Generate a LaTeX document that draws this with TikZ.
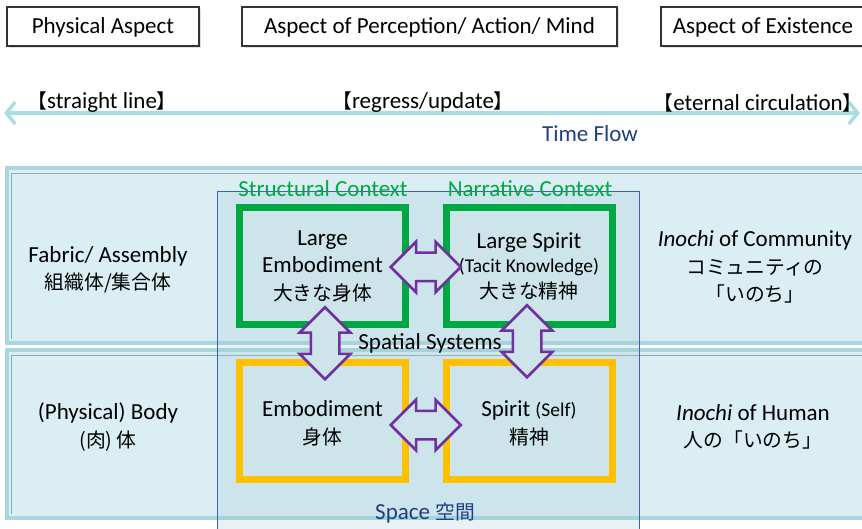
\documentclass[tikz,border=0pt]{standalone}
\usepackage{fontspec}
\setmainfont{Carlito}
\newfontfamily\jp[Scale=0.86]{Noto Sans CJK JP}
\usetikzlibrary{shapes.arrows,calc,shadows,arrows.meta}

\definecolor{panelbg}{HTML}{DAEEF3}
\definecolor{panelrim}{HTML}{A9D6DF}
\definecolor{panelline}{HTML}{8FAAB0}
\definecolor{spacetint}{HTML}{A0C8D2}
\definecolor{spacebg}{HTML}{CCE4EA}
\definecolor{spaceblue}{HTML}{3F62B0}
\definecolor{ctxgreen}{HTML}{00A843}
\definecolor{selfyellow}{HTML}{FFC000}
\definecolor{linkpurple}{HTML}{7030A0}
\definecolor{flowcyan}{HTML}{A9DCE3}
\definecolor{titleblue}{HTML}{1F3F80}

\newcommand\txt{\fontsize{23}{27.5}\selectfont}
\newcommand\sm{\fontsize{19.5}{22}\selectfont}

\tikzset{
  aspect/.style={draw=black!80, line width=1.2pt, fill=white, minimum height=39pt,
    text height=18.5pt, font=\txt,
    drop shadow={shadow xshift=2pt, shadow yshift=-2pt, opacity=0.25}},
  panel/.style={fill=panelbg, draw=panelrim, line width=3.5pt},
  label/.style={font=\txt, align=center},
  ctx/.style={font=\txt, text=ctxgreen},
  large/.style={draw=ctxgreen, line width=7pt, fill=spacebg, minimum width=166pt,
    minimum height=117pt, font=\txt, align=center,
    drop shadow={shadow xshift=2pt, shadow yshift=-2pt, opacity=0.25}},
  small/.style={large, draw=selfyellow},
  link/.style={double arrow, draw=linkpurple, line width=2.5pt, fill=spacebg,
    inner xsep=0pt, inner ysep=13pt, minimum width=48pt, minimum height=70pt,
    double arrow head extend=11pt}
}

\begin{document}
\begin{tikzpicture}[x=1pt,y=-1pt]
    \useasboundingbox (0,0) rectangle (862,529);

    \node[aspect, minimum width=192pt] (phys) at (103,26.5) {Physical Aspect};
    \node[aspect, minimum width=375pt] (perc) at (429.5,26.5) {Aspect of Perception/ Action/ Mind};
    \node[aspect, minimum width=204pt] (exist) at (763,26.5) {Aspect of Existence};

    \coordinate (fl) at (4,113);
    \coordinate (fr) at (860,113);
    \draw[flowcyan, line width=3.5pt, {Straight Barb[length=9pt,width=22pt]}-{Straight Barb[length=9pt,width=22pt]}] (fl) -- (fr);
    \node[label] (straight) at (102,102.5) {{\jp 【}straight line{\jp 】}};
    \node[label] (regress) at (423,102.5) {{\jp 【}regress/update{\jp 】}};
    \node[label] (eternal) at (758,102.5) {{\jp 【}eternal circulation{\jp 】}};
    \node[label, text=titleblue] (flow) at (590,134) {Time Flow};

    \draw[panel] (7,168) rectangle (870,343);
    \draw[panelline, line width=0.8pt] (11,173) -- (11,339) (11,173) -- (870,173);
    \draw[panel] (7,350) rectangle (870,518);
    \draw[panelline, line width=0.8pt] (11,355) -- (11,514) (11,355) -- (870,355);
    \draw[spaceblue, line width=0.8pt, fill=spacetint, fill opacity=0.24] (217,191) rectangle (639,540);

    \node[ctx] (struct) at (323,189) {Structural Context};
    \node[ctx] (narr) at (530,189) {Narrative Context};

    \node[label] (fabric) at (108,270) {Fabric/ Assembly\\{\jp 組織体/集合体}};
    \node[label] (body) at (108,427) {(Physical) Body\\{\jp (肉) 体}};
    \node[label] (comm) at (755,267) {\textit{Inochi} of Community\\{\jp コミュニティの}\\{\jp 「いのち」}};
    \node[label] (human) at (753,427) {\textit{Inochi} of Human\\{\jp 人の「いのち」}};

    \node[large] (lemb) at (322.5,266) {Large\\Embodiment\\{\jp 大きな身体}};
    \node[large] (lspi) at (529,266) {Large Spirit\\[-3pt]{\sm (Tacit Knowledge)}\\[-2pt]{\jp 大きな精神}};
    \node[small] (emb) at (322.5,420.5) {\\[-6pt]Embodiment\\{\jp 身体}};
    \node[small] (spi) at (529,420.5) {\\[-6pt]Spirit {\sm (Self)}\\{\jp 精神}};

    \node[label] (spatial) at (430,343) {Spatial Systems};
    \node[label, text=titleblue] (space) at (425,513) {Space {\jp 空間}};

    \node[link] (l1) at ($(lemb.east)!0.5!(lspi.west)+(0,1)$) {};
    \node[link] (l2) at ($(emb.east)!0.5!(spi.west)+(0,4.5)$) {};
    \node[link, rotate=90, minimum height=72pt] (l3) at ($(lemb.south)!0.5!(emb.north)+(2.5,0)$) {};
    \node[link, rotate=90, minimum height=72pt] (l4) at ($(lspi.south)!0.5!(spi.north)+(-2,-2)$) {};
\end{tikzpicture}
\end{document}
